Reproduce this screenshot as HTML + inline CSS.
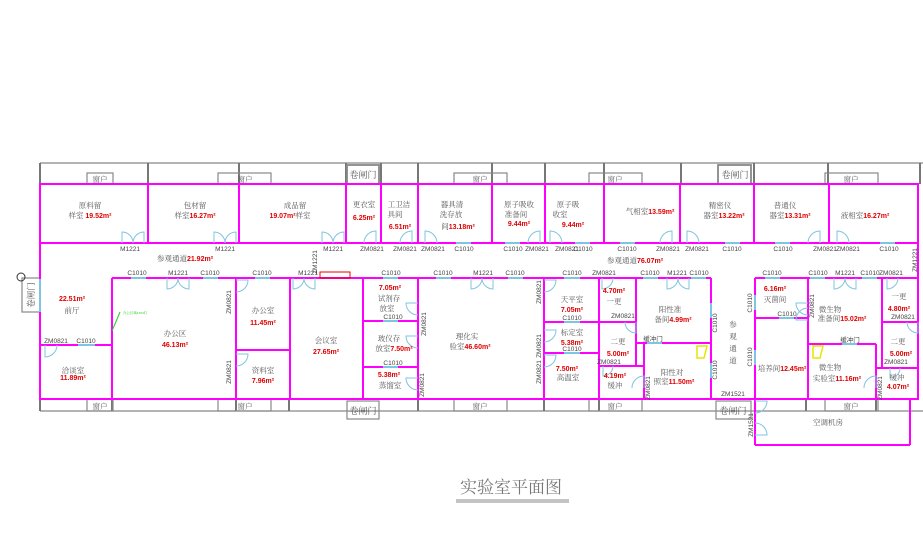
<!DOCTYPE html>
<html><head><meta charset="utf-8"><style>
html,body{margin:0;padding:0;background:#fff;width:923px;height:547px;overflow:hidden}
svg{display:block}
text{font-family:"Liberation Serif","Noto Serif CJK SC","Noto Sans CJK SC",serif;font-size:7.5px;fill:#555;text-anchor:middle}
.r{fill:#e00000;font-family:"Liberation Sans","Noto Sans CJK SC",sans-serif;font-weight:bold;font-size:7px}
.d{font-family:"Liberation Sans",sans-serif;font-size:6.5px;fill:#444}
.m{stroke:#ff00ff;stroke-width:2;fill:none}
.g{stroke:#888;stroke-width:1.2;fill:none}
.gb{stroke:#777;stroke-width:2}
.w{stroke:#7fc4e0;stroke-width:2}
.dr{stroke:#7fc4e0;stroke-width:1;fill:none}
</style></head><body>
<svg width="923" height="547" viewBox="0 0 923 547" xmlns="http://www.w3.org/2000/svg">
<line class="g" x1="40" y1="163" x2="923" y2="163"/>
<g class="gb">
<line x1="40" y1="163" x2="40" y2="184"/><line x1="148" y1="163" x2="148" y2="184"/><line x1="239" y1="163" x2="239" y2="184"/>
<line x1="346" y1="163" x2="346" y2="184"/><line x1="381" y1="163" x2="381" y2="184"/><line x1="418" y1="163" x2="418" y2="184"/>
<line x1="492" y1="163" x2="492" y2="184"/><line x1="545" y1="163" x2="545" y2="184"/><line x1="604" y1="163" x2="604" y2="184"/>
<line x1="681" y1="163" x2="681" y2="184"/><line x1="754" y1="163" x2="754" y2="184"/><line x1="828" y1="163" x2="828" y2="184"/><line x1="920" y1="163" x2="920" y2="184"/>
</g>
<g class="g">
<rect x="87" y="173" width="26" height="11"/><rect x="218" y="173" width="53" height="11"/><rect x="454" y="173" width="53" height="11"/>
<rect x="589" y="173" width="53" height="11"/><rect x="825" y="173" width="53" height="11"/>
<rect x="347" y="165" width="32" height="19" stroke-width="1.8"/><rect x="718" y="165" width="33" height="19" stroke-width="1.8"/>
</g>
<text x="100" y="182">窗户</text><text x="245" y="182">窗户</text><text x="480" y="182">窗户</text><text x="615" y="182">窗户</text><text x="851" y="182">窗户</text>
<text x="363" y="178" style="font-size:9px">卷闸门</text><text x="735" y="178" style="font-size:9px">卷闸门</text>
<line class="g" x1="40" y1="411" x2="923" y2="411"/>
<g class="gb">
<line x1="40" y1="399" x2="40" y2="411"/><line x1="112" y1="399" x2="112" y2="411"/><line x1="236" y1="399" x2="236" y2="411"/><line x1="289" y1="399" x2="289" y2="411"/>
<line x1="418" y1="399" x2="418" y2="411"/><line x1="544" y1="399" x2="544" y2="411"/><line x1="599" y1="399" x2="599" y2="411"/><line x1="806" y1="399" x2="806" y2="411"/><line x1="876" y1="399" x2="876" y2="411"/>
</g>
<g class="g">
<rect x="87" y="399" width="26" height="12"/><rect x="218" y="399" width="53" height="12"/><rect x="454" y="399" width="53" height="12"/>
<rect x="589" y="399" width="53" height="12"/><rect x="825" y="399" width="53" height="12"/>
<rect x="347" y="401" width="32" height="18"/><rect x="716" y="401" width="35" height="18"/>
<rect x="22" y="278" width="18" height="34"/>
</g>
<circle cx="21" cy="277" r="4" fill="none" stroke="#333" stroke-width="1"/>
<text x="100" y="409">窗户</text><text x="245" y="409">窗户</text><text x="480" y="409">窗户</text><text x="615" y="409">窗户</text><text x="851" y="409">窗户</text>
<text x="363" y="414" style="font-size:9px">卷闸门</text><text x="733" y="414" style="font-size:9px">卷闸门</text>
<text transform="translate(34,295) rotate(-90)" style="font-size:8.5px">卷闸门</text>
<g class="m">
<rect x="40" y="184" width="878" height="215"/>
<line x1="40" y1="243" x2="918" y2="243"/>
<line x1="148" y1="184" x2="148" y2="243"/><line x1="239" y1="184" x2="239" y2="243"/><line x1="346" y1="184" x2="346" y2="243"/>
<line x1="381" y1="184" x2="381" y2="243"/><line x1="418" y1="184" x2="418" y2="243"/><line x1="492" y1="184" x2="492" y2="243"/>
<line x1="545" y1="184" x2="545" y2="243"/><line x1="604" y1="184" x2="604" y2="243"/><line x1="680" y1="184" x2="680" y2="243"/>
<line x1="754" y1="184" x2="754" y2="243"/><line x1="829" y1="184" x2="829" y2="243"/>
<line x1="112" y1="278" x2="711" y2="278"/>
<line x1="112" y1="278" x2="112" y2="399"/><line x1="40" y1="345" x2="112" y2="345"/>
<line x1="236" y1="278" x2="236" y2="399"/><line x1="236" y1="350" x2="290" y2="350"/><line x1="290" y1="278" x2="290" y2="399"/>
<line x1="363" y1="278" x2="363" y2="399"/><line x1="363" y1="321" x2="418" y2="321"/><line x1="363" y1="367" x2="418" y2="367"/>
<line x1="418" y1="278" x2="418" y2="399"/><line x1="544" y1="278" x2="544" y2="399"/>
<line x1="544" y1="322" x2="599" y2="322"/><line x1="544" y1="353" x2="599" y2="353"/><line x1="599" y1="278" x2="599" y2="399"/>
<line x1="636" y1="278" x2="636" y2="366"/><line x1="599" y1="322" x2="636" y2="322"/><line x1="599" y1="366" x2="644" y2="366"/><line x1="644" y1="343" x2="644" y2="399"/>
<line x1="636" y1="343" x2="711" y2="343"/><line x1="711" y1="278" x2="711" y2="399"/>
<line x1="755" y1="278" x2="918" y2="278"/><line x1="755" y1="278" x2="755" y2="445"/><line x1="755" y1="318" x2="808" y2="318"/>
<line x1="808" y1="278" x2="808" y2="399"/><line x1="808" y1="344" x2="876" y2="344"/><line x1="882" y1="278" x2="882" y2="368"/>
<line x1="876" y1="344" x2="876" y2="399"/><line x1="882" y1="322" x2="918" y2="322"/><line x1="876" y1="368" x2="918" y2="368"/>
<line x1="755" y1="445" x2="910" y2="445"/><line x1="910" y1="399" x2="910" y2="445"/>
</g>
<g class="w">
<line x1="131" y1="278" x2="146" y2="278"/><line x1="203" y1="278" x2="218" y2="278"/><line x1="255" y1="278" x2="270" y2="278"/>
<line x1="383" y1="278" x2="398" y2="278"/><line x1="436" y1="278" x2="451" y2="278"/><line x1="508" y1="278" x2="523" y2="278"/>
<line x1="564" y1="278" x2="580" y2="278"/><line x1="643" y1="278" x2="658" y2="278"/><line x1="691" y1="278" x2="706" y2="278"/>
<line x1="765" y1="278" x2="780" y2="278"/><line x1="810" y1="278" x2="825" y2="278"/><line x1="862" y1="278" x2="877" y2="278"/>
<line x1="456" y1="243" x2="471" y2="243"/><line x1="505" y1="243" x2="520" y2="243"/><line x1="575" y1="243" x2="590" y2="243"/>
<line x1="620" y1="243" x2="635" y2="243"/><line x1="725" y1="243" x2="740" y2="243"/><line x1="775" y1="243" x2="790" y2="243"/><line x1="880" y1="243" x2="895" y2="243"/>
<line x1="78" y1="345" x2="95" y2="345"/><line x1="383" y1="321" x2="398" y2="321"/><line x1="383" y1="367" x2="398" y2="367"/>
<line x1="564" y1="322" x2="580" y2="322"/><line x1="564" y1="353" x2="580" y2="353"/><line x1="647" y1="343" x2="662" y2="343"/>
<line x1="779" y1="318" x2="794" y2="318"/><line x1="842" y1="344" x2="857" y2="344"/>
<line x1="711" y1="303" x2="711" y2="318"/><line x1="711" y1="363" x2="711" y2="378"/>
<line x1="755" y1="295" x2="755" y2="310"/><line x1="755" y1="350" x2="755" y2="365"/>
<line x1="40" y1="279" x2="40" y2="312"/>
</g>
<g class="dr">
<path d="M122 243 v-11 a11 11 0 0 1 11 11 a11 11 0 0 1 11 -11 v11"/>
<path d="M214 243 v-11 a11 11 0 0 1 11 11 a11 11 0 0 1 11 -11 v11"/>
<path d="M322 243 v-11 a11 11 0 0 1 11 11 a11 11 0 0 1 11 -11 v11"/>
<path d="M167 278 v11 a11 11 0 0 0 11 -11 a11 11 0 0 0 11 11 v-11"/>
<path d="M293 278 v11 a11 11 0 0 0 11 -11 a11 11 0 0 0 11 11 v-11"/>
<path d="M471 278 v11 a11 11 0 0 0 11 -11 a11 11 0 0 0 11 11 v-11"/>
<path d="M667 278 v11 a11 11 0 0 0 11 -11 a11 11 0 0 0 11 11 v-11"/>
<path d="M834 278 v11 a11 11 0 0 0 11 -11 a11 11 0 0 0 11 11 v-11"/>
<path d="M364 243 a12 12 0 0 1 12 -12 v12"/><path d="M400 243 a12 12 0 0 1 12 -12 v12"/>
<path d="M425 243 v-12 a12 12 0 0 1 12 12"/><path d="M528 243 a12 12 0 0 1 12 -12 v12"/>
<path d="M550 243 v-12 a12 12 0 0 1 12 12"/><path d="M660 243 a12 12 0 0 1 12 -12 v12"/>
<path d="M687 243 v-12 a12 12 0 0 1 12 12"/><path d="M808 243 a12 12 0 0 1 12 -12 v12"/>
<path d="M837 243 v-12 a12 12 0 0 1 12 12"/>
<path d="M236 280 h12 a12 12 0 0 1 -12 12"/><path d="M236 354 h12 a12 12 0 0 1 -12 12"/>
<path d="M45 345 v12 a12 12 0 0 0 12 -12"/>
<path d="M418 303 h-12 a12 12 0 0 0 12 12"/><path d="M418 336 h-12 a12 12 0 0 0 12 12"/><path d="M418 378 h-12 a12 12 0 0 0 12 12"/>
<path d="M544 280 h12 a12 12 0 0 1 -12 12"/><path d="M544 330 h12 a12 12 0 0 1 -12 12"/><path d="M544 355 h12 a12 12 0 0 1 -12 12"/>
<path d="M602 278 v11 a11 11 0 0 0 11 -11"/><path d="M636 322 v11 a11 11 0 0 1 -11 -11"/><path d="M603 366 v10 a10 10 0 0 0 10 -10"/>
<path d="M644 388 v-12 a12 12 0 0 0 -12 12"/><path d="M808 303 h-12 a12 12 0 0 0 12 12"/><path d="M808 320 h-12 a12 12 0 0 1 12 -12"/>
<path d="M887 278 v11 a11 11 0 0 0 11 -11"/><path d="M918 322 v11 a11 11 0 0 1 -11 -11"/><path d="M890 368 v10 a10 10 0 0 0 10 -10"/>
<path d="M876 388 v-12 a12 12 0 0 0 -12 12"/><path d="M755 401 h12 a12 12 0 0 1 -12 12"/><path d="M755 435 h12 a12 12 0 0 0 -12 -12"/>
</g>
<rect x="320" y="272" width="30" height="6" fill="none" stroke="#e00" stroke-width="1"/>
<line x1="112" y1="331" x2="120" y2="312" stroke="#22cc22" stroke-width="1"/>
<text x="135" y="314" style="font-size:3.5px;fill:#22cc22">办公区域LED灯</text>
<polygon points="697,346 707,346 704,358 697,358" fill="none" stroke="#e6e600" stroke-width="1.5"/>
<polygon points="813,346 823,346 820,358 813,358" fill="none" stroke="#e6e600" stroke-width="1.5"/>
<text x="90" y="208">原料留</text><text x="90" y="218">样室 <tspan class="r">19.52m²</tspan></text>
<text x="195" y="208">包材留</text><text x="195" y="218">样室<tspan class="r">16.27m²</tspan></text>
<text x="295" y="208">成品留</text><text x="290" y="218"><tspan class="r">19.07m²</tspan>样室</text>
<text x="364" y="207">更衣室</text><text x="364" y="220" class="r">6.25m²</text>
<text x="399" y="207">工卫洁</text><text x="395" y="217">具间</text><text x="400" y="229" class="r">6.51m²</text>
<text x="452" y="207">器具清</text><text x="451" y="217">洗存放</text><text x="458" y="229">间<tspan class="r">13.18m²</tspan></text>
<text x="519" y="207">原子吸收</text><text x="516" y="217">准备间</text><text x="519" y="226" class="r">9.44m²</text>
<text x="568" y="207">原子吸</text><text x="560" y="217">收室</text><text x="573" y="227" class="r">9.44m²</text>
<text x="650" y="214">气相室<tspan class="r">13.59m²</tspan></text>
<text x="720" y="208">精密仪</text><text x="724" y="218">器室<tspan class="r">13.22m²</tspan></text>
<text x="785" y="208">普通仪</text><text x="790" y="218">器室<tspan class="r">13.31m²</tspan></text>
<text x="865" y="218">液相室<tspan class="r">16.27m²</tspan></text>
<text x="185" y="261">参观通道<tspan class="r">21.92m²</tspan></text>
<text x="635" y="263">参观通道<tspan class="r">76.07m²</tspan></text>
<g class="d">
<text x="130" y="251" class="d">M1221</text><text x="225" y="251" class="d">M1221</text><text x="333" y="251" class="d">M1221</text>
<text x="372" y="251" class="d">ZM0821</text><text x="405" y="251" class="d">ZM0821</text><text x="433" y="251" class="d">ZM0821</text>
<text x="464" y="251" class="d">C1010</text><text x="513" y="251" class="d">C1010</text><text x="537" y="251" class="d">ZM0821</text>
<text x="567" y="251" class="d">ZM0821</text><text x="583" y="251" class="d">C1010</text><text x="627" y="251" class="d">C1010</text>
<text x="668" y="251" class="d">ZM0821</text><text x="697" y="251" class="d">ZM0821</text><text x="732" y="251" class="d">C1010</text>
<text x="783" y="251" class="d">C1010</text><text x="825" y="251" class="d">ZM0821</text><text x="848" y="251" class="d">ZM0821</text><text x="889" y="251" class="d">C1010</text>
<text x="137" y="275" class="d">C1010</text><text x="178" y="275" class="d">M1221</text><text x="210" y="275" class="d">C1010</text>
<text x="262" y="275" class="d">C1010</text><text x="308" y="275" class="d">M1221</text><text x="391" y="275" class="d">C1010</text>
<text x="443" y="275" class="d">C1010</text><text x="483" y="275" class="d">M1221</text><text x="515" y="275" class="d">C1010</text>
<text x="572" y="275" class="d">C1010</text><text x="604" y="275" class="d">ZM0821</text><text x="650" y="275" class="d">C1010</text>
<text x="677" y="275" class="d">M1221</text><text x="699" y="275" class="d">C1010</text><text x="772" y="275" class="d">C1010</text>
<text x="818" y="275" class="d">C1010</text><text x="845" y="275" class="d">M1221</text><text x="870" y="275" class="d">C1010</text><text x="891" y="275" class="d">ZM0821</text>
<text x="56" y="343" class="d">ZM0821</text><text x="86" y="343" class="d">C1010</text>
<text x="393" y="319" class="d">C1010</text><text x="393" y="365" class="d">C1010</text>
<text x="572" y="320" class="d">C1010</text><text x="572" y="351" class="d">C1010</text>
<text x="623" y="318" class="d">ZM0821</text><text x="609" y="364" class="d">ZM0821</text><text x="653" y="341" class="d">缓冲门</text>
<text x="787" y="316" class="d">C1010</text><text x="903" y="319" class="d">ZM0821</text><text x="896" y="364" class="d">ZM0821</text>
<text x="850" y="342" class="d">缓冲门</text><text x="733" y="396" class="d">ZM1521</text>
</g>
<g class="d" style="font-size:6px">
<text transform="translate(231,302) rotate(-90)" class="d">ZM0821</text>
<text transform="translate(231,372) rotate(-90)" class="d">ZM0821</text>
<text transform="translate(317,262) rotate(-90)" class="d">ZM1221</text>
<text transform="translate(426,324) rotate(-90)" class="d">ZM0821</text>
<text transform="translate(424,385) rotate(-90)" class="d">ZM0821</text>
<text transform="translate(541,292) rotate(-90)" class="d">ZM0821</text>
<text transform="translate(541,346) rotate(-90)" class="d">ZM0821</text>
<text transform="translate(541,372) rotate(-90)" class="d">ZM0821</text>
<text transform="translate(650,388) rotate(-90)" class="d">ZM0821</text>
<text transform="translate(717,323) rotate(-90)" class="d">C1010</text>
<text transform="translate(717,370) rotate(-90)" class="d">C1010</text>
<text transform="translate(752,303) rotate(-90)" class="d">C1010</text>
<text transform="translate(752,357) rotate(-90)" class="d">C1010</text>
<text transform="translate(814,306) rotate(-90)" class="d">ZM0821</text>
<text transform="translate(882,388) rotate(-90)" class="d">ZM0821</text>
<text transform="translate(917,260) rotate(-90)" class="d">ZM1221</text>
<text transform="translate(753,425) rotate(-90)" class="d">ZM1521</text>
</g>
<text x="72" y="301" class="r">22.51m²</text><text x="72" y="313">前厅</text>
<text x="73" y="373">洽谈室</text><text x="73" y="380" class="r">11.89m²</text>
<text x="175" y="336">办公区</text><text x="175" y="347" class="r">46.13m²</text>
<text x="263" y="313">办公室</text><text x="263" y="325" class="r">11.45m²</text>
<text x="263" y="373">资料室</text><text x="263" y="383" class="r">7.96m²</text>
<text x="326" y="343">会议室</text><text x="326" y="354" class="r">27.65m²</text>
<text x="390" y="290" class="r">7.05m²</text><text x="389" y="301">试剂存</text><text x="387" y="311">放室</text>
<text x="389" y="341">玻仪存</text><text x="394" y="351">放室<tspan class="r">7.50m²</tspan></text>
<text x="389" y="377" class="r">5.38m²</text><text x="390" y="388">蒸馏室</text>
<text x="467" y="339">理化实</text><text x="470" y="349">验室<tspan class="r">46.60m²</tspan></text>
<text x="572" y="302">天平室</text><text x="572" y="312" class="r">7.05m²</text>
<text x="572" y="335">标定室</text><text x="572" y="345" class="r">5.38m²</text>
<text x="567" y="371" class="r">7.50m²</text><text x="568" y="380">高温室</text>
<text x="614" y="293" class="r">4.70m²</text><text x="614" y="304">一更</text>
<text x="618" y="344">二更</text><text x="618" y="356" class="r">5.00m²</text>
<text x="615" y="378" class="r">4.19m²</text><text x="615" y="388">缓冲</text>
<text x="670" y="312">阳性准</text><text x="673" y="322">备间<tspan class="r">4.99m²</tspan></text>
<text x="672" y="375">阳性对</text><text x="674" y="384">照室<tspan class="r">11.50m²</tspan></text>
<text x="733" y="327">参</text><text x="733" y="339">观</text><text x="733" y="351">通</text><text x="733" y="363">道</text>
<text x="775" y="291" class="r">6.16m²</text><text x="775" y="302">灭菌间</text>
<text x="830" y="312">微生物</text><text x="842" y="321">准备间<tspan class="r">15.02m²</tspan></text>
<text x="782" y="371">培养间<tspan class="r">12.45m²</tspan></text>
<text x="830" y="370">微生物</text><text x="837" y="381">实验室<tspan class="r">11.16m²</tspan></text>
<text x="899" y="299">一更</text><text x="899" y="311" class="r">4.80m²</text>
<text x="898" y="344">二更</text><text x="901" y="356" class="r">5.00m²</text>
<text x="897" y="380">缓冲</text><text x="898" y="389" class="r">4.07m²</text>
<text x="828" y="425">空调机房</text>
<text x="511" y="493" style="font-size:17px;fill:#777">实验室平面图</text>
<line x1="456" y1="500" x2="569" y2="500" stroke="#888" stroke-width="1"/>
<line x1="456" y1="502" x2="569" y2="502" stroke="#888" stroke-width="1"/>
</svg>
</body></html>
